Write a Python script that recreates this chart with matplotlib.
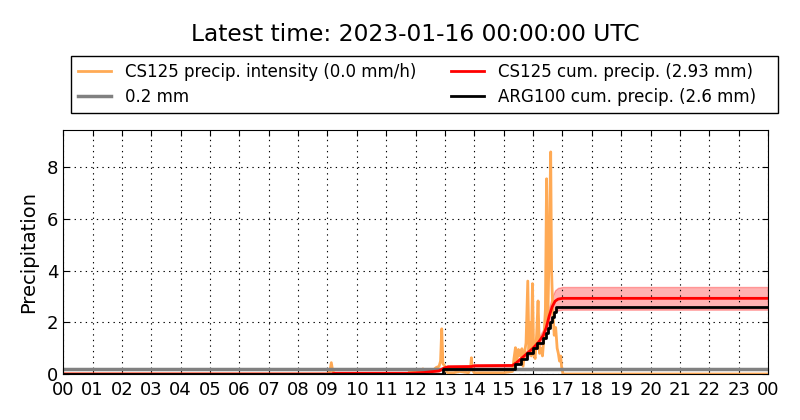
import numpy as np
import matplotlib
matplotlib.use("Agg")
import matplotlib.pyplot as plt

# CS125 precipitation intensity (mm/h), hour of day
int_hours = [0, 9.0, 9.08, 9.13, 9.18, 9.25, 11.75, 11.8, 11.9, 12.0, 12.1, 12.2,
             12.25, 12.3, 12.4, 12.6, 12.7, 12.8, 12.85, 12.89, 12.93, 13.0, 13.05,
             13.1, 13.3, 13.5, 13.8, 13.87, 13.9, 13.93, 14.0, 14.5, 15.0, 15.3,
             15.35, 15.4, 15.45, 15.5, 15.56, 15.62, 15.66, 15.72, 15.76, 15.82,
             15.86, 15.9, 15.94, 15.98, 16.02, 16.07, 16.12, 16.17, 16.22, 16.27,
             16.32, 16.37, 16.42, 16.46, 16.5, 16.55, 16.6, 16.63, 16.67, 16.72,
             16.77, 16.82, 16.86, 16.9, 16.94, 16.97, 17.02, 24]
int_vals = [0, 0, 0.1, 0.44, 0.1, 0, 0, 0.12, 0.1, 0.15, 0.08, 0.1,
            0.2, 0.05, 0.05, 0.15, 0.25, 0.3, 0.5, 1.75, 0.4, 0.3, 0.1,
            0.05, 0.05, 0.1, 0.05, 0.2, 0.63, 0.15, 0.05, 0.05, 0.05, 0.1,
            0.6, 1.02, 0.5, 0.95, 0.7, 0.98, 0.3, 0.9, 1.2, 3.6,
            0.9, 2.0, 0.7, 3.5, 0.8, 0.6, 1.5, 2.83, 0.8, 1.0,
            0.7, 1.4, 2.5, 7.56, 2.0, 5.0, 8.6, 4.0, 2.5, 1.5,
            1.8, 1.0, 0.8, 0.5, 0.7, 0.3, 0, 0]

# CS125 cumulative precipitation (mm)
cum_hours = [0, 9.1, 9.25, 11.8, 12.3, 12.8, 12.95, 13.1, 13.9, 14.0, 15.3, 15.5,
             15.8, 16.0, 16.2, 16.35, 16.45, 16.55, 16.65, 16.75, 16.85, 17.0, 24]
cum_vals = [0, 0, 0.03, 0.03, 0.06, 0.12, 0.22, 0.28, 0.29, 0.32, 0.33, 0.5,
            0.8, 1.0, 1.25, 1.5, 1.8, 2.25, 2.6, 2.82, 2.9, 2.93, 2.93]

# ARG100 tipping bucket cumulative (mm)
arg_hours = [0, 12.92, 15.38, 15.6, 15.78, 16.0, 16.15, 16.35, 16.45, 16.52,
             16.58, 16.64, 16.7, 16.78, 24]
arg_vals = [0, 0.2, 0.4, 0.6, 0.8, 1.0, 1.2, 1.4, 1.6, 1.8,
            2.0, 2.2, 2.4, 2.6, 2.6]

threshold = 0.2
hour_labels = ["%02d" % (h % 24) for h in range(25)]

plt.rcParams["font.family"] = "DejaVu Sans"
fig = plt.figure(figsize=(8, 4.2), dpi=100, facecolor="white")
ax = fig.add_axes([0.079, 0.1095, 0.881, 0.5805])

cum = np.array(cum_vals)
l1, = ax.plot(int_hours, int_vals, color="#ffaa55", lw=2,
              label="CS125 precip. intensity (0.0 mm/h)")
l2 = ax.axhline(threshold, color="gray", lw=2.5, label="0.2 mm")
ax.fill_between(cum_hours, cum * 0.85, cum * 1.15, color="red", alpha=0.3)
l3, = ax.plot(cum_hours, cum_vals, color="red", lw=2,
              label="CS125 cum. precip. (2.93 mm)")
l4, = ax.step(arg_hours, arg_vals, where="post", color="black", lw=2,
              label="ARG100 cum. precip. (2.6 mm)   ")

ax.set_xlim(0, 24)
ax.set_ylim(0, 9.44)
ax.set_xticks(range(25))
ax.set_xticklabels(hour_labels)
ax.set_yticks([0, 2, 4, 6, 8])
ax.tick_params(direction="in", top=True, right=True, labelsize=13, length=4)
ax.tick_params(axis="x", pad=5)
ax.grid(True, color="black", linestyle=(0, (1.2, 3.8)), linewidth=0.8)
ax.set_ylabel("Precipitation", fontsize=14, labelpad=6)

fig.legend(handles=[l1, l2, l3, l4], ncol=2, loc="upper center",
           bbox_to_anchor=(0.531, 0.8667), borderaxespad=0, fontsize=12,
           fancybox=False, edgecolor="black", framealpha=1, handlelength=2.0,
           borderpad=0.4, labelspacing=0.45, columnspacing=2.1)
fig.text(0.519, 0.919, "Latest time: 2023-01-16 00:00:00 UTC",
         ha="center", va="center", fontsize=16.8)

fig.savefig("out.png", dpi=100, facecolor="white")
